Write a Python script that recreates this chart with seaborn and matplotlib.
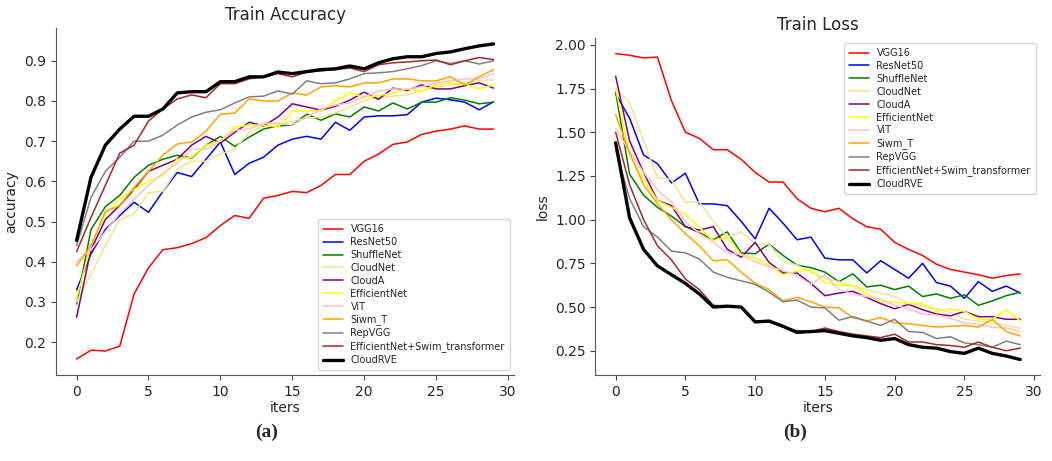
import numpy as np
import pandas as pd
import matplotlib
matplotlib.use("Agg")
import matplotlib.pyplot as plt
import seaborn as sns

ITERS = list(range(30))

MODELS = ["VGG16", "ResNet50", "ShuffleNet", "CloudNet", "CloudA", "EfficientNet",
          "ViT", "Siwm_T", "RepVGG", "EfficientNet+Swim_transformer", "CloudRVE"]
COLORS = ["red", "blue", "green", "khaki", "purple", "yellow",
          "pink", "orange", "gray", "brown", "black"]

# --- Train accuracy ---
acc_vgg16 = [0.158, 0.18, 0.178, 0.19, 0.32, 0.385, 0.43, 0.435, 0.445, 0.46,
             0.49, 0.515, 0.508, 0.558, 0.565, 0.575, 0.572, 0.59, 0.617, 0.617,
             0.65, 0.668, 0.692, 0.698, 0.717, 0.725, 0.73, 0.738, 0.73, 0.73]
acc_resnet50 = [0.33, 0.42, 0.48, 0.515, 0.548, 0.523, 0.575, 0.622, 0.612, 0.655,
                0.698, 0.617, 0.645, 0.66, 0.69, 0.705, 0.712, 0.705, 0.747, 0.727,
                0.76, 0.763, 0.763, 0.766, 0.797, 0.807, 0.803, 0.797, 0.778, 0.798]
acc_shufflenet = [0.295, 0.48, 0.537, 0.565, 0.61, 0.64, 0.655, 0.665, 0.658, 0.69,
                  0.712, 0.687, 0.71, 0.73, 0.738, 0.74, 0.767, 0.752, 0.768, 0.76,
                  0.785, 0.775, 0.795, 0.78, 0.797, 0.797, 0.808, 0.802, 0.793, 0.797]
acc_cloudnet = [0.3, 0.37, 0.44, 0.505, 0.52, 0.572, 0.575, 0.63, 0.65, 0.65,
                0.668, 0.68, 0.722, 0.738, 0.74, 0.75, 0.757, 0.76, 0.77, 0.785,
                0.8, 0.81, 0.812, 0.815, 0.825, 0.835, 0.84, 0.845, 0.85, 0.853]
acc_clouda = [0.262, 0.43, 0.505, 0.54, 0.58, 0.625, 0.64, 0.655, 0.69, 0.712,
              0.695, 0.722, 0.747, 0.738, 0.76, 0.793, 0.785, 0.777, 0.787, 0.802,
              0.822, 0.804, 0.832, 0.826, 0.84, 0.83, 0.83, 0.838, 0.845, 0.832]
acc_efficientnet = [0.31, 0.44, 0.52, 0.555, 0.58, 0.6, 0.615, 0.655, 0.66, 0.69,
                    0.70, 0.735, 0.74, 0.74, 0.735, 0.775, 0.775, 0.775, 0.8, 0.82,
                    0.81, 0.813, 0.82, 0.83, 0.825, 0.84, 0.845, 0.842, 0.83, 0.84]
acc_vit = [0.4, 0.43, 0.475, 0.52, 0.555, 0.59, 0.62, 0.645, 0.68, 0.68,
           0.7, 0.727, 0.73, 0.745, 0.745, 0.74, 0.76, 0.78, 0.79, 0.795,
           0.81, 0.825, 0.83, 0.83, 0.835, 0.845, 0.85, 0.855, 0.855, 0.868]
acc_siwm_t = [0.39, 0.44, 0.525, 0.54, 0.585, 0.625, 0.665, 0.693, 0.698, 0.725,
              0.767, 0.77, 0.805, 0.8, 0.8, 0.82, 0.815, 0.835, 0.838, 0.835,
              0.845, 0.845, 0.855, 0.855, 0.85, 0.85, 0.86, 0.84, 0.86, 0.878]
acc_repvgg = [0.44, 0.56, 0.625, 0.66, 0.7, 0.7, 0.715, 0.74, 0.76, 0.772,
              0.778, 0.795, 0.81, 0.812, 0.825, 0.817, 0.85, 0.843, 0.845, 0.855,
              0.868, 0.87, 0.873, 0.88, 0.888, 0.9, 0.893, 0.9, 0.892, 0.9]
acc_effswin = [0.425, 0.51, 0.59, 0.67, 0.69, 0.75, 0.78, 0.805, 0.815, 0.808,
               0.843, 0.843, 0.855, 0.86, 0.868, 0.86, 0.872, 0.875, 0.878, 0.882,
               0.873, 0.89, 0.895, 0.897, 0.9, 0.902, 0.89, 0.9, 0.908, 0.903]
acc_cloudrve = [0.453, 0.61, 0.69, 0.73, 0.762, 0.762, 0.78, 0.82, 0.823, 0.823,
                0.848, 0.848, 0.86, 0.86, 0.872, 0.868, 0.873, 0.878, 0.88, 0.887,
                0.88, 0.895, 0.905, 0.91, 0.91, 0.918, 0.922, 0.93, 0.937, 0.942]

# --- Train loss ---
loss_vgg16 = [1.95, 1.94, 1.925, 1.93, 1.68, 1.5, 1.465, 1.4, 1.4, 1.345,
              1.27, 1.215, 1.215, 1.12, 1.065, 1.045, 1.065, 1.005, 0.96, 0.945,
              0.87, 0.83, 0.795, 0.745, 0.715, 0.7, 0.685, 0.665, 0.68, 0.69]
loss_resnet50 = [1.72, 1.58, 1.37, 1.32, 1.21, 1.265, 1.09, 1.09, 1.08, 0.99,
                 0.89, 1.065, 0.98, 0.885, 0.9, 0.78, 0.77, 0.77, 0.695, 0.765,
                 0.715, 0.665, 0.75, 0.64, 0.62, 0.55, 0.645, 0.59, 0.62, 0.58]
loss_shufflenet = [1.73, 1.26, 1.14, 1.07, 1.02, 0.96, 0.925, 0.885, 0.93, 0.81,
                   0.805, 0.86, 0.795, 0.74, 0.725, 0.7, 0.645, 0.69, 0.615, 0.625,
                   0.6, 0.62, 0.56, 0.575, 0.55, 0.57, 0.51, 0.535, 0.565, 0.585]
loss_cloudnet = [1.75, 1.67, 1.45, 1.24, 1.23, 1.1, 1.1, 0.99, 0.9, 0.93,
                 0.86, 0.86, 0.76, 0.74, 0.7, 0.665, 0.645, 0.62, 0.6, 0.58,
                 0.56, 0.52, 0.51, 0.49, 0.47, 0.43, 0.42, 0.41, 0.395, 0.38]
loss_clouda = [1.82, 1.45, 1.27, 1.11, 1.08, 0.96, 0.94, 0.96, 0.83, 0.785,
               0.87, 0.755, 0.695, 0.695, 0.635, 0.565, 0.58, 0.59, 0.555, 0.52,
               0.49, 0.515, 0.485, 0.46, 0.45, 0.475, 0.445, 0.445, 0.43, 0.43]
loss_efficientnet = [1.75, 1.37, 1.23, 1.11, 1.07, 1.03, 0.955, 0.88, 0.9, 0.8,
                     0.78, 0.74, 0.685, 0.705, 0.71, 0.64, 0.625, 0.625, 0.575, 0.53,
                     0.53, 0.52, 0.52, 0.475, 0.49, 0.475, 0.43, 0.43, 0.485, 0.42]
loss_vit = [1.52, 1.39, 1.27, 1.17, 1.1, 0.99, 0.92, 0.87, 0.81, 0.8,
            0.76, 0.73, 0.71, 0.68, 0.63, 0.685, 0.6, 0.575, 0.56, 0.545,
            0.51, 0.49, 0.46, 0.455, 0.435, 0.41, 0.4, 0.385, 0.38, 0.36]
loss_siwm_t = [1.6, 1.38, 1.2, 1.09, 1.0, 0.92, 0.85, 0.765, 0.77, 0.7,
               0.635, 0.6, 0.535, 0.555, 0.53, 0.5, 0.495, 0.44, 0.42, 0.44,
               0.41, 0.405, 0.395, 0.385, 0.39, 0.395, 0.385, 0.43, 0.36, 0.335]
loss_repvgg = [1.4, 1.12, 0.96, 0.9, 0.82, 0.81, 0.775, 0.7, 0.67, 0.65,
               0.63, 0.585, 0.53, 0.54, 0.5, 0.495, 0.425, 0.445, 0.42, 0.395,
               0.43, 0.36, 0.355, 0.32, 0.33, 0.295, 0.285, 0.27, 0.305, 0.285]
loss_effswin = [1.5, 1.2, 1.0, 0.85, 0.77, 0.66, 0.6, 0.51, 0.505, 0.5,
                0.42, 0.415, 0.385, 0.365, 0.36, 0.38, 0.36, 0.345, 0.335, 0.325,
                0.345, 0.3, 0.3, 0.285, 0.28, 0.27, 0.3, 0.27, 0.25, 0.265]
loss_cloudrve = [1.44, 1.01, 0.83, 0.735, 0.685, 0.635, 0.575, 0.5, 0.505, 0.5,
                 0.415, 0.42, 0.39, 0.355, 0.36, 0.365, 0.35, 0.335, 0.325, 0.31,
                 0.32, 0.285, 0.27, 0.265, 0.245, 0.235, 0.265, 0.235, 0.22, 0.2]

ACC = [acc_vgg16, acc_resnet50, acc_shufflenet, acc_cloudnet, acc_clouda, acc_efficientnet,
       acc_vit, acc_siwm_t, acc_repvgg, acc_effswin, acc_cloudrve]
LOSS = [loss_vgg16, loss_resnet50, loss_shufflenet, loss_cloudnet, loss_clouda, loss_efficientnet,
        loss_vit, loss_siwm_t, loss_repvgg, loss_effswin, loss_cloudrve]

sns.set_style("ticks")
plt.rcParams["font.family"] = ["DejaVu Sans"]


def draw(ax, series, title, ylabel, legend_loc):
    for name, color, vals in zip(MODELS, COLORS, series):
        lw = 2.4 if name == "CloudRVE" else 1.1
        sns.lineplot(x=ITERS, y=vals, color=color, linewidth=lw, label=name, ax=ax)
    ax.set_title(title, fontsize=12)
    ax.set_xlabel("iters", fontsize=10, labelpad=2)
    ax.set_ylabel(ylabel, fontsize=10)
    ax.set_xticks([0, 5, 10, 15, 20, 25, 30])
    ax.tick_params(labelsize=10, color="#444444")
    for sp in ax.spines.values():
        sp.set_color("#555555")
    sns.despine(ax=ax)
    leg = ax.legend(loc=legend_loc, fontsize=7, handlelength=2.0, labelspacing=0.3,
                    frameon=True, borderpad=0.5)
    leg.get_frame().set_edgecolor("#cccccc")


fig = plt.figure(figsize=(10.52, 4.61), dpi=100)
ax1 = fig.add_axes([0.053, 0.187, 0.436, 0.752])
ax2 = fig.add_axes([0.566, 0.187, 0.423, 0.730])

draw(ax1, ACC, "Train Accuracy", "accuracy", "lower right")
draw(ax2, LOSS, "Train Loss", "loss", "upper right")

fig.text(0.253, 0.063, "(a)", fontsize=14, fontweight="bold", family="Liberation Serif",
         ha="center", va="center")
fig.text(0.756, 0.063, "(b)", fontsize=14, fontweight="bold", family="Liberation Serif",
         ha="center", va="center")

fig.savefig("out.png", dpi=100)
